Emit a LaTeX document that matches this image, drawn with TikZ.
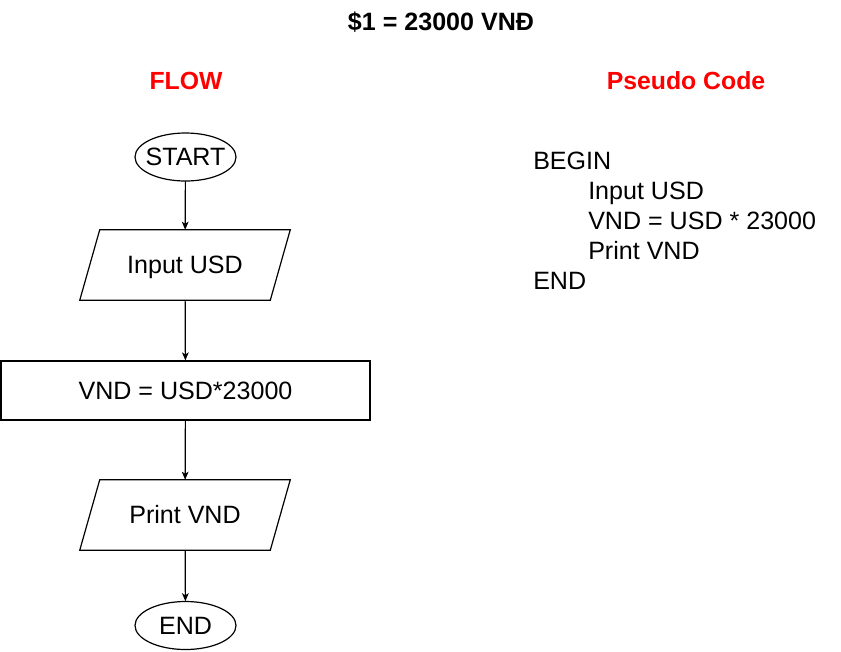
\documentclass[tikz,border=0pt]{standalone}
\usepackage{fontspec}
\setmainfont{Liberation Sans}
\usetikzlibrary{shapes.geometric,arrows.meta}
\definecolor{flowred}{HTML}{FF0000}
\begin{document}
\begin{tikzpicture}[x=0.75pt,y=-0.75pt,
  every node/.style={font=\fontsize{18.8}{22}\selectfont, inner sep=0pt,
    text height=13.4pt, text depth=0pt},
  box/.style={draw, line width=0.9pt},
  terminal/.style={rectangle, minimum width=75.75pt, minimum height=36pt},
  io/.style={rectangle, minimum width=142.5pt, minimum height=52.5pt},
  outline/.style={line width=0.9pt},
  proc/.style={box, rectangle, minimum width=276.75pt, minimum height=44.25pt},
  flow/.style={-{Stealth[length=6pt,width=5pt,inset=1.5pt]}, line width=0.9pt},
  heading/.style={font=\fontsize{18.6}{22}\selectfont\bfseries, text=flowred},
  title/.style={font=\fontsize{18.8}{22}\selectfont\bfseries},
  code/.style={anchor=west}]
\useasboundingbox (0,0) rectangle (841,651);

\node[title] (ttl) at (441,22) {\$1 = 23000 VNĐ};
\node[heading] (hflow) at (186,81) {FLOW};
\node[heading] (hcode) at (686,81) {Pseudo Code};

\node[terminal] (start) at (185.5,157) {START};
\node[io] (in) at (185,265) {Input USD};
\node[proc] (calc) at (185.5,390.5) {VND = USD*23000};
\node[io] (out) at (185,515) {Print VND};
\node[terminal] (stop) at (185.5,625.5) {END};

\foreach \n in {start,stop}
  \draw[outline] (\n.center) ellipse [x radius=37.875pt, y radius=18pt];
\foreach \n in {in,out}
  \draw[outline] ([xshift=7.5pt]\n.north west) -- ([xshift=7.5pt]\n.north east)
    -- ([xshift=-7.5pt]\n.south east) -- ([xshift=-7.5pt]\n.south west) -- cycle;

\draw[flow] (start) -- (in);
\draw[flow] (in) -- (calc);
\draw[flow] (calc) -- (out);
\draw[flow] (out) -- (stop);

\node[code] (c1) at (533,161) {BEGIN};
\node[code] (c2) at (588,191) {Input USD};
\node[code] (c3) at (588,221) {VND = USD * 23000};
\node[code] (c4) at (588,251) {Print VND};
\node[code] (c5) at (533,281) {END};
\end{tikzpicture}
\end{document}
